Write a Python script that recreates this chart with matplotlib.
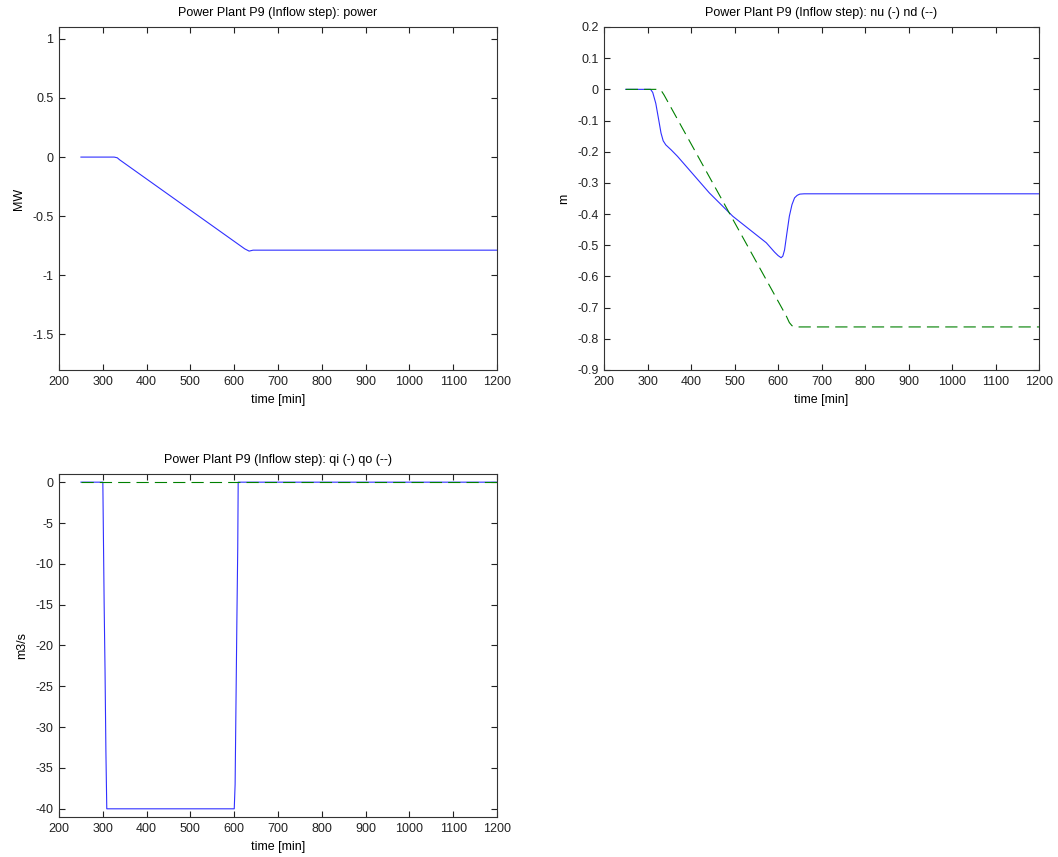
import numpy as np
import matplotlib
matplotlib.use('Agg')
import matplotlib.pyplot as plt

plt.rcParams['font.family'] = ['Liberation Sans', 'DejaVu Sans']
plt.rcParams['font.size'] = 9

# power output [MW]
t_power = [250, 326, 333, 338, 624, 634, 643, 1200]
power = [0, 0, -0.006, -0.022, -0.776, -0.795, -0.787, -0.787]

# upstream / downstream level [m]
t_nu = [250, 307, 312, 319, 326, 331, 336, 342, 355, 369, 442, 496, 573, 592,
        600, 607, 611, 615, 620, 626, 632, 638, 644, 650, 660, 1200]
nu = [0, 0, -0.01, -0.045, -0.10, -0.14, -0.165, -0.178, -0.195, -0.215,
      -0.332, -0.407, -0.492, -0.522, -0.533, -0.54, -0.535, -0.515, -0.465,
      -0.407, -0.37, -0.348, -0.34, -0.336, -0.335, -0.335]
t_nd = [250, 326, 332, 338, 619, 626, 632, 640, 1200]
nd = [0, 0, -0.005, -0.018, -0.727, -0.748, -0.758, -0.762, -0.762]

# inflow / outflow [m3/s]
t_qi = [250, 300, 301, 303, 305, 307, 309, 600, 602, 604, 606, 608, 609, 1200]
qi = [0, 0, -5, -15, -23, -33, -40, -40, -37, -27, -17, -8, 0, 0]
t_qo = [250, 1200]
qo = [0, 0]

blue = '#3030ff'
green = '#008000'
dash = (0, (11, 5.5))
ttl = 'Power Plant P9 (Inflow step): '

fig = plt.figure(figsize=(10.58, 8.57), dpi=100)
ax1 = fig.add_axes([0.0558, 0.5683, 0.414, 0.4002])
ax2 = fig.add_axes([0.5709, 0.5683, 0.4112, 0.4002])
ax3 = fig.add_axes([0.0558, 0.0467, 0.414, 0.4002])


def style(ax, ylim, yticks, title, ylabel):
    ax.set_xlim(200, 1200)
    ax.set_xticks(np.arange(200, 1201, 100))
    ax.set_ylim(*ylim)
    ax.set_yticks(yticks)
    ax.set_yticklabels(['{:g}'.format(v) for v in yticks])
    ax.tick_params(direction='in', top=True, right=True, length=4,
                   width=0.8, labelsize=9, colors='#222222', pad=4)
    for s in ax.spines.values():
        s.set_linewidth(0.8)
        s.set_color('#333333')
    ax.set_title(title, fontsize=9, pad=8)
    ax.set_xlabel('time [min]', fontsize=9, labelpad=5)
    ax.set_ylabel(ylabel, fontsize=9, labelpad=5)


ax1.plot(t_power, power, color=blue, lw=0.8)
style(ax1, (-1.8, 1.1), [1, 0.5, 0, -0.5, -1, -1.5], ttl + 'power', 'MW')

ax2.plot(t_nu, nu, color=blue, lw=0.8)
ax2.plot(t_nd, nd, color=green, lw=0.8, linestyle=dash)
style(ax2, (-0.9, 0.2), np.round(np.arange(0.2, -0.91, -0.1), 1),
      ttl + 'nu (-) nd (--)', 'm')

ax3.plot(t_qi, qi, color=blue, lw=0.8)
ax3.plot(t_qo, qo, color=green, lw=0.8, linestyle=dash)
style(ax3, (-41, 1), list(range(0, -41, -5)), ttl + 'qi (-) qo (--)', 'm3/s')

fig.savefig('out.png', dpi=100)
